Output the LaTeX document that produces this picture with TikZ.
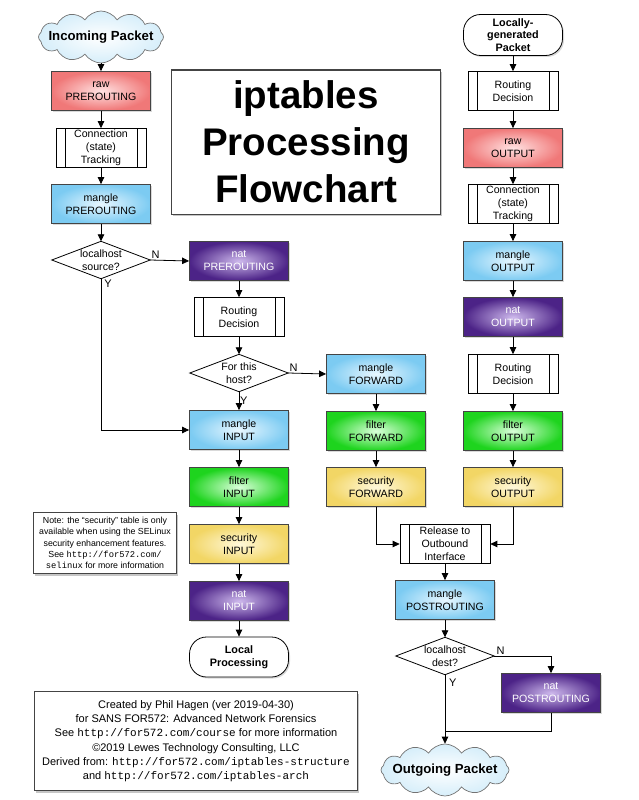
\documentclass[tikz,border=0pt]{standalone}
\usepackage{fontspec}
\setmainfont{Liberation Sans}
\setmonofont{Liberation Mono}
\usetikzlibrary{shapes,shapes.symbols,arrows.meta,shadows}

\definecolor{rawred}{HTML}{F07878}
\definecolor{rawlight}{HTML}{FFE2E2}
\definecolor{mangleblue}{HTML}{7CCBF2}
\definecolor{manglelight}{HTML}{E8F7FF}
\definecolor{filtergreen}{HTML}{1ED41E}
\definecolor{filterlight}{HTML}{DAFFDA}
\definecolor{secyellow}{HTML}{F2D665}
\definecolor{seclight}{HTML}{FFF8DA}
\definecolor{natpurple}{HTML}{4C2387}
\definecolor{natlight}{HTML}{CDB8EC}
\definecolor{edgegray}{HTML}{444444}
\definecolor{cloudblue}{HTML}{D6EEFA}

\begin{document}
\begin{tikzpicture}[x=1pt, y=-1pt,
  every node/.style={font=\fontsize{10.6}{13}\selectfont, align=center},
  softshadow/.style={drop shadow={shadow xshift=1.5pt, shadow yshift=-1.5pt, opacity=0.3}},
  tablebox/.style={draw=edgegray, line width=0.8pt, minimum width=99pt, minimum height=39pt, inner sep=0pt, softshadow},
  rawtbl/.style={tablebox, inner color=rawlight, outer color=rawred},
  mangletbl/.style={tablebox, inner color=manglelight, outer color=mangleblue},
  filtertbl/.style={tablebox, inner color=filterlight, outer color=filtergreen},
  sectbl/.style={tablebox, inner color=seclight, outer color=secyellow},
  nattbl/.style={tablebox, inner color=natlight, outer color=natpurple, text=white},
  procbox/.style={draw=black, line width=0.7pt, fill=white, minimum width=90pt, minimum height=39pt, inner sep=0pt,
    path picture={\draw[line width=0.6pt]
      ([xshift=9pt]path picture bounding box.north west) -- ([xshift=9pt]path picture bounding box.south west)
      ([xshift=-9pt]path picture bounding box.north east) -- ([xshift=-9pt]path picture bounding box.south east);}},
  decision/.style={minimum width=98pt, minimum height=37pt, inner sep=0pt},
  terminal/.style={draw=black, line width=0.8pt, fill=white, rounded corners=17pt, minimum width=99pt, minimum height=40pt,
    inner sep=0pt, font=\fontsize{10.8}{12.8}\selectfont\bfseries, softshadow},
  packet/.style={cloud, cloud ignores aspect, cloud puffs=12, cloud puff arc=115, draw=black!55, line width=0.7pt,
    inner color=white, outer color=cloudblue, inner sep=0pt, minimum width=125pt, minimum height=52pt},
  infobox/.style={draw=edgegray, line width=1.2pt, fill=white, inner sep=0pt,
    drop shadow={shadow xshift=1.5pt, shadow yshift=-2pt, opacity=0.45}},
  flow/.style={-{Triangle[length=7pt,width=6.5pt]}, line width=0.8pt},
  link/.style={line width=0.8pt},
  yn/.style={font=\fontsize{11}{12}\selectfont, inner sep=1pt}
]
\useasboundingbox (0,0) rectangle (639,800);

% incoming side
\node[packet, label={[font=\fontsize{13.2}{15}\selectfont\bfseries]center:Incoming Packet}] (in) at (101,37) {};
\node[rawtbl] (rawpre) at (101,91) {raw\\PREROUTING};
\node[procbox] (ctpre) at (101,148) {Connection\\(state)\\Tracking};
\node[mangletbl] (manpre) at (101,204) {mangle\\PREROUTING};
\node[decision] (srcq) at (101,260) {localhost\\source?};

\node[nattbl] (natpre) at (239,261) {nat\\PREROUTING};
\node[procbox] (rdpre) at (239,317) {Routing\\Decision};
\node[decision] (hostq) at (239,373) {For this\\host?};
\node[mangletbl] (manin) at (239,430) {mangle\\INPUT};
\node[filtertbl] (filin) at (239,487) {filter\\INPUT};
\node[sectbl] (secin) at (239,544) {security\\INPUT};
\node[nattbl] (natin) at (239,601) {nat\\INPUT};
\node[terminal] (locproc) at (239,657) {Local\\Processing};

% forward path
\node[mangletbl] (manfwd) at (376,374) {mangle\\FORWARD};
\node[filtertbl] (filfwd) at (376,431) {filter\\FORWARD};
\node[sectbl] (secfwd) at (376,487) {security\\FORWARD};

% locally generated side
\node[terminal, minimum height=41pt, font=\fontsize{10.8}{12.5}\selectfont\bfseries] (locgen) at (513,35) {Locally-\\generated\\Packet};
\node[procbox] (rdout) at (513,91) {Routing\\Decision};
\node[rawtbl] (rawout) at (513,148) {raw\\OUTPUT};
\node[procbox] (ctout) at (513,204) {Connection\\(state)\\Tracking};
\node[mangletbl] (manout) at (513,261) {mangle\\OUTPUT};
\node[nattbl] (natout) at (513,317) {nat\\OUTPUT};
\node[procbox] (rdout2) at (513,374) {Routing\\Decision};
\node[filtertbl] (filout) at (513,431) {filter\\OUTPUT};
\node[sectbl] (secout) at (513,487) {security\\OUTPUT};

% outbound
\node[procbox] (release) at (445,544) {Release to\\Outbound\\Interface};
\node[mangletbl] (manpost) at (445,600) {mangle\\POSTROUTING};
\node[decision] (dstq) at (445,656) {localhost\\dest?};
\node[nattbl] (natpost) at (551,693) {nat\\POSTROUTING};
\node[packet, minimum width=128pt, label={[font=\fontsize{13.2}{15}\selectfont\bfseries]center:Outgoing Packet}] (out) at (445,770) {};
\coordinate (join) at (445,731);

% title and notes
\node[infobox, line width=1pt, minimum width=269pt, minimum height=144pt, font=\fontsize{38.5}{47}\selectfont\bfseries] (title) at (306,142) {iptables\\Processing\\Flowchart};
\node[infobox, minimum width=143pt, minimum height=61pt, font=\fontsize{8.8}{11.3}\selectfont] (note) at (105,543)
  {Note: the “security” table is only\\available when using the SELinux\\security enhancement features.\\See \texttt{http://for572.com/}\\\texttt{selinux} for more information};
\node[infobox, minimum width=323pt, minimum height=99pt, font=\fontsize{11}{14.3}\selectfont] (credits) at (196,741)
  {Created by Phil Hagen (ver 2019-04-30)\\for SANS FOR572: Advanced Network Forensics\\See \texttt{http://for572.com/course} for more information\\©2019 Lewes Technology Consulting, LLC\\Derived from: \texttt{http://for572.com/iptables-structure}\\and \texttt{http://for572.com/iptables-arch}};

% decision diamonds
\foreach \d in {srcq,hostq,dstq}
  \draw[line width=0.8pt] (\d.north) -- (\d.east) -- (\d.south) -- (\d.west) -- cycle;

% straight flows
\foreach \a/\b in {in/rawpre, rawpre/ctpre, ctpre/manpre, manpre/srcq, natpre/rdpre, rdpre/hostq, hostq/manin,
  manin/filin, filin/secin, secin/natin, natin/locproc, manfwd/filfwd, filfwd/secfwd,
  locgen/rdout, rdout/rawout, rawout/ctout, ctout/manout, manout/natout, natout/rdout2, rdout2/filout, filout/secout,
  release/manpost, manpost/dstq, dstq/out}
  \draw[flow] (\a) -- (\b);

% branches
\draw[flow] (srcq.east) -- node[yn, pos=0, anchor=south west]{N} (natpre.west);
\draw[flow] (srcq.south) -- node[yn, pos=0, anchor=north west, xshift=2pt]{Y} (srcq.south |- manin.west) -- (manin.west);
\draw[flow] (hostq.east) -- node[yn, pos=0, anchor=south west]{N} (manfwd.west);
\node[yn, anchor=west] at ([yshift=-9pt]hostq.south) {Y};
\draw[flow] (secfwd.south) |- (release.west);
\draw[flow] (secout.south) |- (release.east);
\draw[flow] (dstq.east) -- node[yn, pos=0, anchor=south west, xshift=1pt]{N} (natpost.north |- dstq.east) -- (natpost.north);
\node[yn, anchor=north west] at ([xshift=3pt,yshift=-3pt]dstq.south) {Y};
\draw[link] (natpost.south) |- (join);
\end{tikzpicture}
\end{document}
